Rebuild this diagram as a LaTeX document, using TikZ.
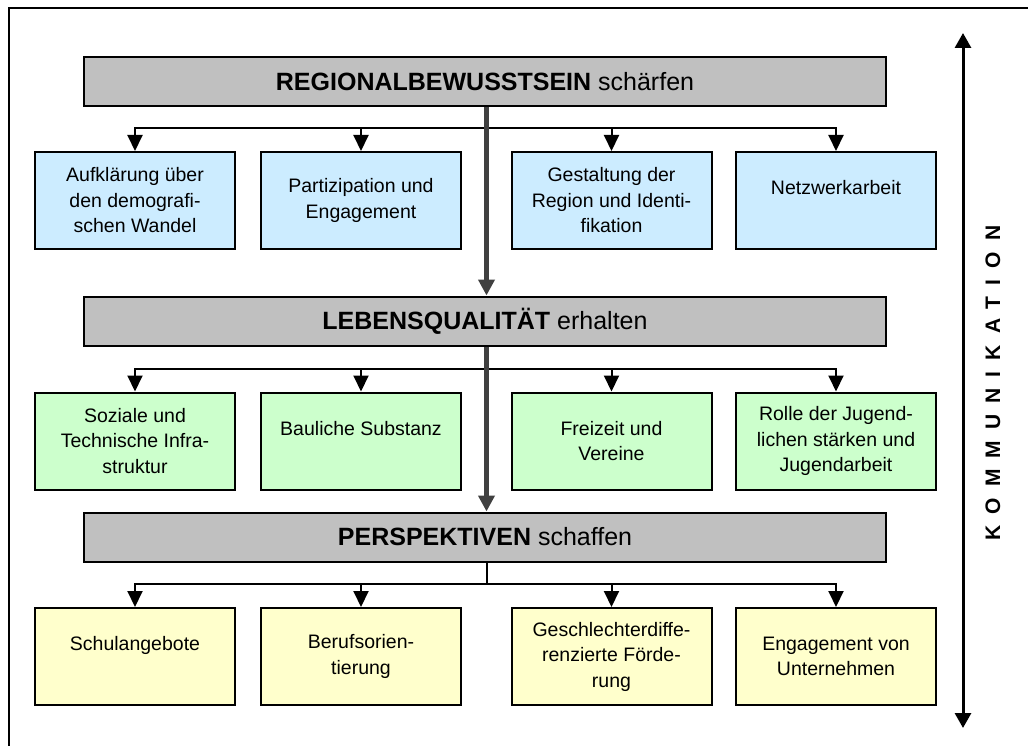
\documentclass[tikz,border=0pt]{standalone}
\usepackage{fontspec}
\setmainfont{Liberation Sans}
\newfontfamily\kommfont[LetterSpace=53]{Liberation Sans}
\usetikzlibrary{arrows.meta}

\definecolor{headgray}{HTML}{C0C0C0}
\definecolor{flowgray}{HTML}{404040}
\definecolor{itemblue}{HTML}{CCECFF}
\definecolor{itemgreen}{HTML}{CCFFCC}
\definecolor{itemyellow}{HTML}{FFFFCC}

\tikzset{
  head/.style={draw, line width=2pt, fill=headgray, minimum width=802pt, minimum height=49pt,
    inner sep=0pt, font=\fontsize{25}{30}\selectfont},
  item/.style={draw, line width=2pt, minimum width=200pt, minimum height=97pt, inner sep=0pt,
    align=center, font=\fontsize{19.5}{25.5}\selectfont},
  conn/.style={line width=2pt, -{Triangle[length=16pt,width=15pt]}},
  flow/.style={line width=5pt, draw=flowgray, -{Triangle[length=16pt,width=16pt]}, fill=flowgray},
}

\begin{document}
\begin{tikzpicture}[x=1pt,y=-1pt]
    \useasboundingbox (0,0) rectangle (1028,746);
    \draw[line width=2pt] (9,746) |- (1028,8);

    % headings
    \node[head] (reg) at (485,81.5) {\textbf{REGIONALBEWUSSTSEIN} schärfen};
    \node[head] (leb) at (485,321) {\textbf{LEBENSQUALITÄT} erhalten};
    \node[head] (per) at (485,537) {\textbf{PERSPEKTIVEN} schaffen};

    % first row
    \node[item, fill=itemblue] (auf) at (135,200.5) {Aufklärung über\\den demografi-\\schen Wandel};
    \node[item, fill=itemblue] (par) at (361,200.5) {Partizipation und\\Engagement};
    \node[item, fill=itemblue] (ges) at (611.5,200.5) {Gestaltung der\\Region und Identi-\\fikation};
    \node[item, fill=itemblue] (net) at (836,200.5) {Netzwerkarbeit\\~};

    % second row
    \node[item, fill=itemgreen] (soz) at (135,441) {Soziale und\\Technische Infra-\\struktur};
    \node[item, fill=itemgreen] (bau) at (361,441) {Bauliche Substanz\\~};
    \node[item, fill=itemgreen] (fre) at (611.5,441) {Freizeit und\\Vereine};
    \node[item, fill=itemgreen] (rol) at (836,441) {Rolle der Jugend-\\lichen stärken und\\Jugendarbeit};

    % third row
    \node[item, fill=itemyellow] (sch) at (135,656.5) {Schulangebote\\~};
    \node[item, fill=itemyellow] (ber) at (361,656.5) {Berufsorien-\\tierung};
    \node[item, fill=itemyellow] (gsd) at (611.5,656.5) {Geschlechterdiffe-\\renzierte Förde-\\rung};
    \node[item, fill=itemyellow] (eng) at (836,656.5) {Engagement von\\Unternehmen};

    % branch points
    \coordinate (j1) at (486.5,128);
    \coordinate (j2) at (486.5,369);
    \coordinate (j3) at (486.5,584);

    \draw[conn] (j1) -| (auf.north);
    \draw[conn] (j1) -| (par.north);
    \draw[conn] (j1) -| (ges.north);
    \draw[conn] (j1) -| (net.north);
    \draw[conn] (j2) -| (soz.north);
    \draw[conn] (j2) -| (bau.north);
    \draw[conn] (j2) -| (fre.north);
    \draw[conn] (j2) -| (rol.north);
    \draw[line width=2pt] (per.south -| j3) -- (j3);
    \draw[conn] (j3) -| (sch.north);
    \draw[conn] (j3) -| (ber.north);
    \draw[conn] (j3) -| (gsd.north);
    \draw[conn] (j3) -| (eng.north);

    % main flow
    \draw[flow] (reg.south -| j1) -- (leb.north -| j1);
    \draw[flow] (leb.south -| j2) -- (per.north -| j2);

    % communication
    \coordinate (ktop) at (963,33);
    \coordinate (kbot) at (963,728);
    \draw[line width=3pt, {Triangle[length=15pt,width=16pt]}-{Triangle[length=15pt,width=16pt]}] (kbot) -- (ktop);
    \node[rotate=90, font=\kommfont\bfseries\fontsize{21}{22}\selectfont] (komm) at (993,383) {KOMMUNIKATION};
\end{tikzpicture}
\end{document}
